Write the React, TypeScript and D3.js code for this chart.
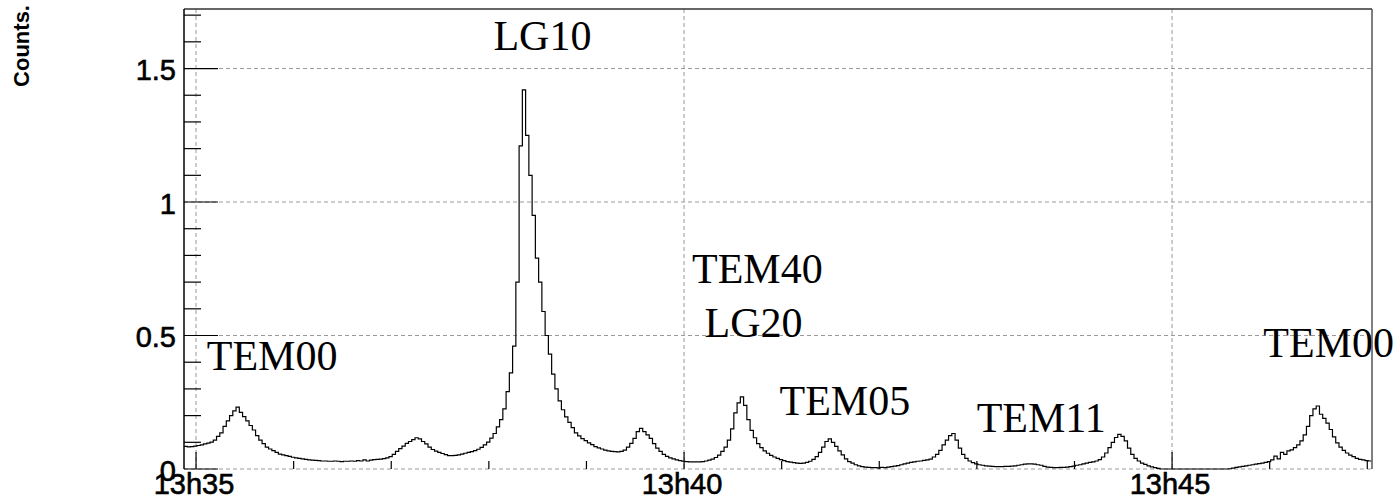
import React from "react";
import * as d3 from "d3";

// Histogram of counts, 2 s bins starting 7.4 s before 13h35 (time in seconds after 13:35:00)
const BIN_START = -7.4;
const BIN_WIDTH = 2;
const counts: number[] = [
  0.085, 0.083, 0.084, 0.086, 0.088, 0.090, 0.094, 0.097, 0.101, 0.108,
  0.122, 0.135, 0.160, 0.180, 0.200, 0.218, 0.232, 0.212, 0.196, 0.180,
  0.163, 0.146, 0.125, 0.108, 0.095, 0.082, 0.075, 0.069, 0.062, 0.056,
  0.053, 0.050, 0.047, 0.044, 0.042, 0.040, 0.038, 0.036, 0.034, 0.033,
  0.032, 0.031, 0.030, 0.030, 0.029, 0.029, 0.030, 0.029, 0.028, 0.029,
  0.029, 0.030, 0.029, 0.031, 0.030, 0.034, 0.030, 0.033, 0.035, 0.036,
  0.037, 0.039, 0.042, 0.046, 0.055, 0.066, 0.076, 0.086, 0.096, 0.103,
  0.110, 0.117, 0.113, 0.103, 0.094, 0.082, 0.073, 0.067, 0.062, 0.058,
  0.054, 0.050, 0.050, 0.051, 0.053, 0.056, 0.059, 0.062, 0.065, 0.069,
  0.074, 0.081, 0.090, 0.101, 0.116, 0.133, 0.158, 0.185, 0.225, 0.290,
  0.360, 0.460, 0.700, 1.210, 1.420, 1.250, 1.100, 0.950, 0.790, 0.700,
  0.590, 0.500, 0.430, 0.355, 0.300, 0.255, 0.222, 0.195, 0.175, 0.155,
  0.135, 0.124, 0.114, 0.106, 0.098, 0.091, 0.084, 0.079, 0.075, 0.071,
  0.068, 0.066, 0.065, 0.064, 0.066, 0.071, 0.082, 0.096, 0.115, 0.140,
  0.152, 0.140, 0.128, 0.115, 0.095, 0.078, 0.066, 0.055, 0.047, 0.042,
  0.038, 0.034, 0.031, 0.029, 0.028, 0.027, 0.027, 0.027, 0.027, 0.028,
  0.030, 0.033, 0.037, 0.043, 0.052, 0.066, 0.082, 0.108, 0.150, 0.210,
  0.248, 0.270, 0.238, 0.185, 0.145, 0.117, 0.095, 0.080, 0.068, 0.059,
  0.051, 0.045, 0.040, 0.035, 0.031, 0.028, 0.026, 0.024, 0.022, 0.021,
  0.022, 0.025, 0.029, 0.036, 0.046, 0.062, 0.082, 0.103, 0.113, 0.100,
  0.085, 0.068, 0.053, 0.038, 0.028, 0.022, 0.016, 0.012, 0.009, 0.007,
  0.006, 0.005, 0.005, 0.004, 0.006, 0.005, 0.007, 0.009, 0.011, 0.013,
  0.016, 0.019, 0.022, 0.025, 0.027, 0.029, 0.030, 0.032, 0.034, 0.037,
  0.045, 0.055, 0.070, 0.090, 0.108, 0.125, 0.133, 0.108, 0.078, 0.055,
  0.040, 0.030, 0.024, 0.019, 0.016, 0.014, 0.012, 0.011, 0.010, 0.009,
  0.009, 0.009, 0.010, 0.010, 0.011, 0.012, 0.014, 0.016, 0.018, 0.019,
  0.019, 0.018, 0.016, 0.014, 0.010, 0.007, 0.006, 0.005, 0.005, 0.006,
  0.006, 0.007, 0.009, 0.011, 0.014, 0.016, 0.019, 0.022, 0.025, 0.027,
  0.030, 0.035, 0.045, 0.060, 0.080, 0.100, 0.118, 0.130, 0.122, 0.105,
  0.078, 0.055, 0.040, 0.030, 0.022, 0.017, 0.012, 0.008, 0.005, 0.002,
  0, 0, 0, 0, 0, 0, 0, 0, 0, 0,
  0, 0, 0, 0, 0, 0, 0, 0, 0, 0,
  0.000, 0.001, 0.003, 0.006, 0.008, 0.010, 0.012, 0.014, 0.016, 0.018,
  0.020, 0.022, 0.025, 0.028, 0.034, 0.048, 0.038, 0.062, 0.055, 0.068,
  0.072, 0.080, 0.090, 0.105, 0.128, 0.160, 0.200, 0.225, 0.236, 0.205,
  0.190, 0.172, 0.148, 0.120, 0.098, 0.082, 0.070, 0.060, 0.052, 0.046,
  0.040, 0.036, 0.034, 0.031, 0.030,
];

// Axis ranges
const X_DOMAIN: [number, number] = [-7.4, 722.9];
const Y_DOMAIN: [number, number] = [0, 1.723];

// Time axis: labelled every 5 minutes, minor ticks every minute
const xMajorTicks = [0, 300, 600];
const xMajorLabels = ["13h35", "13h40", "13h45"];
const xMinorTicks = [60, 120, 180, 240, 360, 420, 480, 540, 660, 720];

// Counts axis
const yMajorTicks = [0, 0.5, 1, 1.5];
const yMajorLabels = ["0", "0.5", "1", "1.5"];
const yMinorTicks = [0.1, 0.2, 0.3, 0.4, 0.6, 0.7, 0.8, 0.9, 1.1, 1.2, 1.3, 1.4, 1.6, 1.7];

// Mode labels, anchored at (time, counts) of the text's left baseline
const modeNames = ["TEM00", "LG10", "TEM40", "LG20", "TEM05", "TEM11", "TEM00"];
const modeTimes = [6.6, 182.8, 304.9, 312.6, 358.7, 479.9, 656.1];
const modeLevels = [0.371, 1.571, 0.697, 0.494, 0.202, 0.14, 0.418];

const W = 1396;
const H = 502;
const FRAME = { left: 184, right: 1372, top: 9, bottom: 469 };
const SANS = "'Liberation Sans', Arial, Helvetica, sans-serif";
const SERIF = "'Liberation Serif', 'Times New Roman', Times, serif";

export default function App() {
  const x = d3.scaleLinear().domain(X_DOMAIN).range([FRAME.left, FRAME.right]);
  const y = d3.scaleLinear().domain(Y_DOMAIN).range([FRAME.bottom, FRAME.top]);

  const pts: [number, number][] = counts.map((c, i) => [BIN_START + i * BIN_WIDTH, c]);
  pts.push([BIN_START + counts.length * BIN_WIDTH, counts[counts.length - 1]]);
  const histPath =
    d3
      .line<[number, number]>()
      .x((d) => x(d[0]))
      .y((d) => y(d[1]))
      .curve(d3.curveStepAfter)(pts) || "";

  const gridStyle = { stroke: "#9a9a9a", strokeWidth: 1, strokeDasharray: "4,3" };

  return (
    <svg
      width={W}
      height={H}
      viewBox={`0 0 ${W} ${H}`}
      style={{ position: "absolute", left: 0, top: 0, background: "#fff" }}
    >
      <rect x={0} y={0} width={W} height={H} fill="#fff" />

      {/* grid */}
      {xMajorTicks.map((t) => (
        <line key={"gx" + t} x1={x(t)} x2={x(t)} y1={FRAME.top} y2={FRAME.bottom} {...gridStyle} />
      ))}
      {yMajorTicks.map((v) => (
        <line key={"gy" + v} x1={FRAME.left} x2={FRAME.right} y1={y(v)} y2={y(v)} {...gridStyle} />
      ))}

      {/* histogram outline */}
      <path d={histPath} fill="none" stroke="#000" strokeWidth={1.2} />

      {/* mode annotations */}
      {modeNames.map((name, i) => (
        <text
          key={"m" + i}
          x={x(modeTimes[i])}
          y={y(modeLevels[i])}
          fontFamily={SERIF}
          fontSize={42}
          fill="#000"
        >
          {name}
        </text>
      ))}

      {/* frame */}
      <line x1={FRAME.left} x2={FRAME.right} y1={FRAME.top} y2={FRAME.top} stroke="#333" strokeWidth={1.5} />
      <line x1={FRAME.right} x2={FRAME.right} y1={FRAME.top} y2={FRAME.bottom} stroke="#555" strokeWidth={1.5} />
      <line x1={FRAME.left} x2={FRAME.left} y1={FRAME.top} y2={FRAME.bottom} stroke="#000" strokeWidth={1.5} />

      {/* y axis ticks */}
      {yMajorTicks.map((v) => (
        <line key={"yt" + v} x1={FRAME.left} x2={FRAME.left + 34} y1={y(v)} y2={y(v)} stroke="#000" strokeWidth={1.2} />
      ))}
      {yMinorTicks.map((v) => (
        <line key={"ym" + v} x1={FRAME.left} x2={FRAME.left + 17} y1={y(v)} y2={y(v)} stroke="#000" strokeWidth={1.2} />
      ))}
      {yMajorLabels.map((lab, i) => (
        <text
          key={"yl" + i}
          x={176}
          y={y(yMajorTicks[i]) + 1.5}
          textAnchor="end"
          dominantBaseline="central"
          fontFamily={SANS}
          fontSize={29}
          fill="#000"
          stroke="#000"
          strokeWidth={0.6}
        >
          {lab}
        </text>
      ))}

      {/* x axis ticks */}
      {xMajorTicks.map((t) => (
        <line key={"xt" + t} x1={x(t)} x2={x(t)} y1={FRAME.bottom} y2={FRAME.bottom - 17} stroke="#000" strokeWidth={1.2} />
      ))}
      {xMinorTicks.map((t) => (
        <line key={"xm" + t} x1={x(t)} x2={x(t)} y1={FRAME.bottom} y2={FRAME.bottom - 8} stroke="#000" strokeWidth={1.2} />
      ))}
      {xMajorLabels.map((lab, i) => (
        <text
          key={"xl" + i}
          x={x(xMajorTicks[i]) - 2}
          y={494}
          textAnchor="middle"
          fontFamily={SANS}
          fontSize={29}
          fill="#000"
          stroke="#000"
          strokeWidth={0.6}
        >
          {lab}
        </text>
      ))}

      {/* axis title */}
      <text
        transform="translate(29,5) rotate(-90)"
        textAnchor="end"
        fontFamily={SANS}
        fontWeight="bold"
        fontSize={22}
        fill="#000"
      >
        Counts.
      </text>
    </svg>
  );
}
